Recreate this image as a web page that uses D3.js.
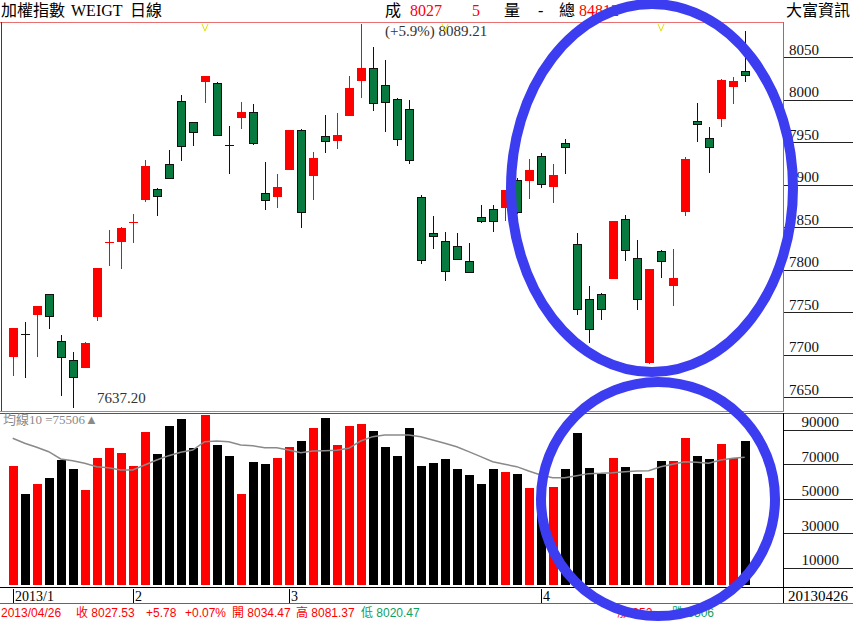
<!DOCTYPE html>
<html><head><meta charset="utf-8">
<script src="https://cdn.jsdelivr.net/npm/d3@7"></script>
<style>body{margin:0;background:#fff;} svg{display:block;}</style>
</head><body>
<script>
// ---- data (TAIEX daily, 2013/01/18 - 2013/04/26) ----
const dates = ["01/18","01/21","01/22","01/23","01/24","01/25","01/28","01/29","01/30","01/31",
  "02/01","02/04","02/05","02/06","02/18","02/19","02/20","02/21","02/22","02/23","02/25","02/26","02/27",
  "03/01","03/04","03/05","03/06","03/07","03/08","03/11","03/12","03/13","03/14","03/15","03/18","03/19","03/20","03/21","03/22","03/25","03/26","03/27","03/28","03/29",
  "04/01","04/02","04/03","04/08","04/09","04/10","04/11","04/12","04/15","04/16","04/17","04/18","04/19","04/22","04/23","04/24","04/25","04/26"];
const opens  = [7697,7726,7747,7772,7716,7694.5,7685,7745,7832,7833,7854,7882,7895,7925,7999,7973.5,8021,8020,7948,7979,7986,7890.6,7886,7918,7965,7910,7957,7951.5,7981,8022,8038,8018,8001,7989,7886,7843,7834,7828,7811,7862,7872,7873,7906,7904,7934,7897,7949,7831,7766,7772,7789,7860,7814,7691,7822,7781,7868,7975,7955,7977,8015,8034.47];
const highs  = [7732,7739,7758,7772,7724,7703,7715,7802,7847,7850,7866,7929,7896,7941,8006,7974,8028,8021,7969,7998,7995,7927,7913,7964.4,7966,7938.5,7982,7984,8028,8089.21,8062.5,8047,8002,8000,7888,7863,7844,7843,7832,7876,7876,7894,7908,7931,7937,7924,7954,7843,7781,7773,7857,7864,7835,7801,7823,7825,7933,7996,7968,8024,8027,8081.37];
const lows   = [7675,7673,7698,7730,7652,7637.2,7685,7740,7805,7801,7832,7880,7863.5,7907,7928,7946,7996,7957,7913,7966,7947,7871,7873,7918,7849,7882,7937,7942,7981,8002,7987,7962,7946,7925,7807.5,7824,7787,7812,7796,7855,7845,7857,7866,7883,7896,7879,7913,7747,7714,7741,7789,7811,7753,7689,7791,7757,7863,7950,7914,7968,7995,8020.47];
const closes = [7732,7725,7758,7745,7696,7673,7714,7802,7833,7849,7856,7922,7886,7907,7944,7960.5,8028,7957.5,7947,7986,7947.5,7881,7898,7964,7867,7932,7950,7959,8014,8038,7995,7996,7953,7928,7811,7839,7798,7812,7796.5,7856.5,7856.5,7894,7867,7918,7900,7912,7943,7753,7729,7753,7857,7822,7764,7800.5,7809,7790.5,7930,7971,7943,8023,8021.75,8027.53];
const volumes = [69000,52580,58370,61850,72460,67070,55070,73800,79600,76350,69000,88870,75770,92170,96060,79250,98550,81160,74780,52580,71480,69970,73800,80170,83480,91190,96980,81160,92170,93510,89280,80170,74780,91190,69000,70900,72850,67070,63770,58370,67070,65700,64170,56040,57000,56620,67070,87920,68020,64170,73430,68600,64170,62220,71880,71880,85410,74780,73040,81550,73800,83650];
const ma10 = [85040,82140,79810,77290,73040,72080,70530,68600,68020,66670,66670,69570,72460,74980,76910,78260,83090,83480,83090,81160,80770,79600,79600,78260,76710,77680,77870,78070,79250,83480,85990,86960,86960,86960,85990,84060,82140,80170,77290,74400,71480,69970,68600,66090,63770,62220,62220,63380,64560,64750,65120,65700,66090,66280,68600,69970,71480,71100,70530,72460,73430,73990];
const priceTicks = [7650,7700,7750,7800,7850,7900,7950,8000,8050];
const volumeTicks = [10000,30000,50000,70000,90000];
const monthTickIdx = [0,10,23,44];
const monthTickLabels = ["2013/1","2","3","4"];
const vMarkIdx = [16,36,54];
const highIdx = 29, lowIdx = 5;

// ---- layout ----
const W = 853, H = 621;
const serif = '"Liberation Serif","Noto Sans CJK TC",serif';
const sans = '"Liberation Sans","Noto Sans CJK TC",sans-serif';
const RED = "#ff0000", GREEN = "#087a40", GRN_TXT = "#10a060";

const svg = d3.select("body").append("svg").attr("width", W).attr("height", H)
  .style("font-family", serif);

const x = d3.scaleLinear().domain([0, 61]).range([12.7, 744.7]);
const px = i => Math.round(x(i));
const yP = d3.scaleLinear().domain([7637.2, 8089.21]).range([408.3, 24]);
const yV = d3.scaleLinear().domain([0, 100000]).range([585, 412.5]);
const idx = d3.range(dates.length);
const up = i => closes[i] >= opens[i];

// ---- frame ----
const fr = svg.append("g").attr("shape-rendering", "crispEdges");
fr.append("line").attr("x1", 0).attr("x2", 784).attr("y1", 22.5).attr("y2", 22.5).attr("stroke", "#e87070");
fr.append("line").attr("x1", 1.5).attr("x2", 1.5).attr("y1", 22).attr("y2", 412).attr("stroke", "#802020");
fr.append("line").attr("x1", 783.5).attr("x2", 783.5).attr("y1", 22).attr("y2", 412).attr("stroke", "#e05050");
fr.append("line").attr("x1", 0).attr("x2", 784).attr("y1", 411.5).attr("y2", 411.5).attr("stroke", "#e87070");
fr.append("line").attr("x1", 0).attr("x2", W).attr("y1", 413.5).attr("y2", 413.5).attr("stroke", "#555");
fr.append("line").attr("x1", 783.5).attr("x2", 783.5).attr("y1", 413).attr("y2", 604).attr("stroke", "#000");
fr.append("line").attr("x1", 0).attr("x2", W).attr("y1", 587.5).attr("y2", 587.5).attr("stroke", "#000");
fr.append("line").attr("x1", 0).attr("x2", W).attr("y1", 603.5).attr("y2", 603.5).attr("stroke", "#666");

// ---- price axis ----
const gP = svg.append("g").attr("transform", "translate(784,0)")
  .call(d3.axisRight(yP).tickValues(priceTicks).tickSize(69).tickFormat(d3.format("d")));
gP.select(".domain").remove();
gP.selectAll(".tick line").attr("stroke", "#222").attr("shape-rendering", "crispEdges");
gP.selectAll(".tick text").attr("x", 5).attr("dy", "-3").attr("text-anchor", "start")
  .attr("fill", "#111").style("font-family", serif).style("font-size", "15px");

// ---- volume axis ----
const gV = svg.append("g").attr("transform", "translate(784,0)")
  .call(d3.axisRight(yV).tickValues(volumeTicks).tickSize(69).tickFormat(d3.format("d")));
gV.select(".domain").remove();
gV.selectAll(".tick line").attr("stroke", "#222").attr("shape-rendering", "crispEdges");
gV.selectAll(".tick text").attr("x", 55).attr("dy", "-3").attr("text-anchor", "end")
  .attr("fill", "#111").style("font-family", serif).style("font-size", "15px");

// ---- candles ----
const gc = svg.append("g").attr("shape-rendering", "crispEdges");
gc.selectAll("line.wick").data(idx).join("line").attr("class", "wick")
  .attr("x1", i => px(i) + 0.5).attr("x2", i => px(i) + 0.5)
  .attr("y1", i => yP(highs[i])).attr("y2", i => yP(lows[i]))
  .attr("stroke", i => up(i) ? RED : "#111").attr("stroke-width", 1);
const bodyH = i => Math.abs(yP(opens[i]) - yP(closes[i]));
gc.selectAll("rect.body").data(idx.filter(i => bodyH(i) >= 2)).join("rect").attr("class", "body")
  .attr("x", i => up(i) ? px(i) - 4 : px(i) - 3.5)
  .attr("width", i => up(i) ? 9 : 8)
  .attr("y", i => yP(Math.max(opens[i], closes[i])) + (up(i) ? 0 : 0.5))
  .attr("height", i => bodyH(i) - (up(i) ? 0 : 1))
  .attr("fill", i => up(i) ? RED : GREEN)
  .attr("stroke", i => up(i) ? "none" : "#111");
gc.selectAll("line.doji").data(idx.filter(i => bodyH(i) < 2)).join("line").attr("class", "doji")
  .attr("x1", i => px(i) - 4).attr("x2", i => px(i) + 5)
  .attr("y1", i => Math.round(yP(closes[i])) + 0.5).attr("y2", i => Math.round(yP(closes[i])) + 0.5)
  .attr("stroke", i => up(i) ? RED : "#111");

// annotations
svg.append("text").attr("x", px(highIdx) + 24).attr("y", 36).attr("fill", "#333")
  .style("font-size", "15px").text("(+5.9%) " + d3.format(".2f")(highs[highIdx]));
svg.append("text").attr("x", px(lowIdx) + 24).attr("y", 403).attr("fill", "#333")
  .style("font-size", "15px").text(d3.format(".2f")(lows[lowIdx]));
svg.append("g").selectAll("path").data(vMarkIdx).join("path")
  .attr("d", i => `M${px(i) - 3},24 L${px(i)},31 L${px(i) + 3},24`)
  .attr("fill", "none").attr("stroke", "#e6e000").attr("stroke-width", 1);

// ---- volume ----
svg.append("g").attr("shape-rendering", "crispEdges").selectAll("rect").data(idx).join("rect")
  .attr("x", i => px(i) - 4).attr("width", 9)
  .attr("y", i => yV(volumes[i])).attr("height", i => yV(0) - yV(volumes[i]))
  .attr("fill", i => up(i) ? RED : "#000");
svg.append("path").datum(idx)
  .attr("d", d3.line().x(i => x(i)).y(i => yV(ma10[i])))
  .attr("fill", "none").attr("stroke", "#8a8a8a").attr("stroke-width", 1.5);
svg.append("text").attr("x", 3).attr("y", 424).attr("fill", "#8a8a8a").style("font-size", "13px")
  .text("均線10 =75506▲");

// ---- date row ----
const gm = svg.append("g");
gm.selectAll("line").data(monthTickIdx).join("line")
  .attr("x1", i => px(i) + 0.5).attr("x2", i => px(i) + 0.5).attr("y1", 589).attr("y2", 603)
  .attr("stroke", "#000").attr("shape-rendering", "crispEdges");
gm.selectAll("text").data(monthTickIdx).join("text")
  .attr("x", i => px(i) + 2).attr("y", 601).style("font-size", "14px").attr("fill", "#000")
  .text((d, k) => monthTickLabels[k]);
svg.append("text").attr("x", 788).attr("y", 601).style("font-size", "15px").text("20130426");

// ---- header ----
const hd = svg.append("g").style("font-size", "16px");
const ht = (x0, t, c) => hd.append("text").attr("x", x0).attr("y", 16).attr("fill", c || "#000").text(t);
ht(1, "加權指數"); ht(71, "WEIGT"); ht(130, "日線");
ht(385, "成"); ht(410, "8027", RED); ht(472, "5", RED); ht(504, "量"); ht(538, "-");
ht(559, "總"); ht(579, "84812", RED);
ht(786, "大富資訊");

// ---- status bar ----
const sb = svg.append("g").style("font-family", sans).style("font-size", "12px");
const st = (x0, t, c) => sb.append("text").attr("x", x0).attr("y", 617).attr("fill", c).text(t);
st(1, "2013/04/26", RED); st(76, "收 8027.53", RED); st(146, "+5.78", RED); st(185, "+0.07%", RED);
st(232, "開 8034.47", RED); st(296, "高 8081.37", RED); st(361, "低 8020.47", GRN_TXT);
st(617, "漲 352", RED); st(672, "跌 3506", GRN_TXT);

// ---- highlight ellipses ----
const og = svg.append("g").attr("fill", "none").attr("stroke", "#3c3cf0").attr("stroke-width", 10);
og.append("ellipse").attr("cx", 652).attr("cy", 188).attr("rx", 141).attr("ry", 184);
og.append("ellipse").attr("cx", 658).attr("cy", 499).attr("rx", 117).attr("ry", 117);
</script>
</body></html>
